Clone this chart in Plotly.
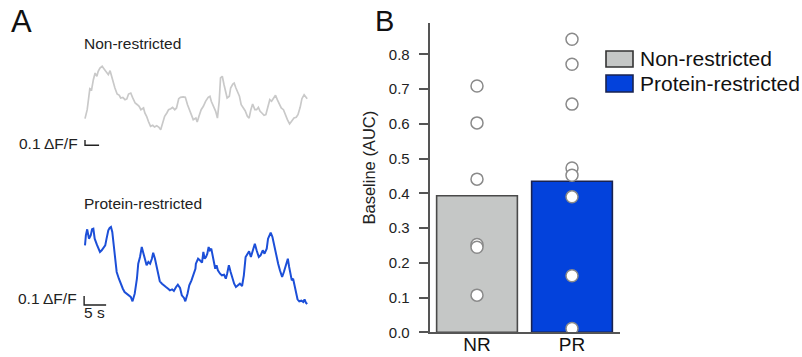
import plotly.graph_objects as go

# ---------------- data ----------------
# Panel A: example traces (time in s, dF/F)
nr_time = [0.0, 0.5, 1.1, 1.5, 1.9, 2.3, 2.7, 3.0, 3.4, 3.9, 4.3, 4.8, 5.3, 5.7, 6.1, 6.4, 6.8, 7.3, 7.8, 8.1,
           8.6, 9.1, 9.5, 9.9, 10.4, 10.8, 11.4, 11.9, 12.3, 12.7, 13.3, 13.6, 14.0, 14.4, 14.9, 15.4, 15.8, 16.3,
           16.8, 17.2, 17.7, 18.1, 18.6, 19.0, 19.5, 19.9, 20.4, 20.8, 21.3, 21.7, 22.3, 22.8, 23.3, 23.7, 24.2,
           24.6, 25.2, 25.5, 25.9, 26.4, 26.9, 27.4, 28.0, 28.4, 28.7, 29.2, 29.7, 30.1, 30.5, 30.8, 31.2, 31.6,
           32.0, 32.3, 32.8, 33.1, 33.6, 33.9, 34.3, 34.6, 35.1, 35.5, 36.0, 36.4, 36.9, 37.3, 37.7, 38.1, 38.6,
           39.0, 39.4, 39.8, 40.2, 40.7, 41.1, 41.6, 42.0, 42.4, 42.8, 43.3, 43.7, 44.2, 44.6, 45.1, 45.5, 46.0,
           46.5, 47.0, 47.5, 48.0, 48.4, 48.9, 49.3, 49.8, 50.2, 50.5]
nr_dff = [0.137, 0.237, 0.470, 0.459, 0.570, 0.644, 0.608, 0.663, 0.700, 0.719, 0.692, 0.663, 0.626, 0.670,
          0.589, 0.533, 0.478, 0.411, 0.397, 0.367, 0.374, 0.348, 0.356, 0.411, 0.422, 0.374, 0.311, 0.292,
          0.274, 0.237, 0.256, 0.200, 0.163, 0.108, 0.052, 0.063, 0.044, 0.059, 0.041, 0.014, 0.108, 0.163,
          0.200, 0.237, 0.248, 0.263, 0.237, 0.256, 0.359, 0.374, 0.378, 0.374, 0.292, 0.237, 0.181, 0.126,
          0.144, 0.100, 0.163, 0.237, 0.274, 0.330, 0.374, 0.386, 0.330, 0.274, 0.219, 0.144, 0.330, 0.589,
          0.608, 0.514, 0.403, 0.367, 0.386, 0.478, 0.522, 0.533, 0.478, 0.441, 0.386, 0.292, 0.256, 0.226,
          0.163, 0.144, 0.237, 0.300, 0.237, 0.237, 0.263, 0.219, 0.200, 0.174, 0.181, 0.274, 0.348, 0.330,
          0.359, 0.397, 0.348, 0.300, 0.256, 0.237, 0.181, 0.126, 0.078, 0.108, 0.144, 0.152, 0.181, 0.263,
          0.359, 0.403, 0.374, 0.359]

pr_time = [0.0, 0.2, 0.5, 0.9, 1.3, 1.6, 1.9, 2.2, 2.7, 3.1, 3.4, 3.8, 4.2, 4.6, 4.9, 5.3, 5.6, 5.9, 6.2, 6.5,
           6.8, 7.2, 7.7, 8.1, 8.6, 9.0, 9.5, 9.9, 10.4, 10.8, 11.3, 11.8, 12.1, 12.5, 12.9, 13.3, 13.6, 14.0,
           14.4, 14.8, 15.2, 15.5, 15.9, 16.3, 16.7, 17.0, 17.5, 18.0, 18.4, 18.9, 19.3, 19.8, 20.2, 20.7, 21.1,
           21.6, 22.0, 22.5, 22.8, 23.3, 23.7, 24.2, 24.6, 25.1, 25.2, 25.7, 26.1, 26.6, 26.9, 27.2, 27.5, 27.8,
           28.1, 28.4, 28.7, 29.0, 29.3, 29.6, 29.9, 30.2, 30.7, 31.1, 31.6, 32.0, 32.3, 32.7, 33.1, 33.5, 33.9,
           34.3, 34.8, 35.2, 35.7, 36.1, 36.5, 36.9, 37.3, 37.7, 38.1, 38.6, 39.0, 39.5, 39.9, 40.4, 40.8, 41.3,
           41.6, 41.9, 42.2, 42.6, 43.0, 43.4, 43.9, 44.3, 44.8, 45.2, 45.7, 46.1, 46.4, 46.7, 47.0, 47.3, 47.7,
           48.0, 48.3, 48.7, 49.2, 49.6, 49.9, 50.2, 50.5]
pr_dff = [0.663, 0.774, 0.841, 0.737, 0.774, 0.841, 0.848, 0.737, 0.670, 0.626, 0.589, 0.608, 0.633, 0.663,
          0.737, 0.830, 0.856, 0.867, 0.811, 0.663, 0.497, 0.367, 0.292, 0.237, 0.181, 0.144, 0.126, 0.108,
          0.089, 0.041, 0.126, 0.292, 0.459, 0.533, 0.644, 0.570, 0.497, 0.441, 0.478, 0.459, 0.514, 0.581,
          0.514, 0.422, 0.330, 0.263, 0.237, 0.211, 0.200, 0.181, 0.163, 0.174, 0.156, 0.200, 0.226, 0.189,
          0.108, 0.078, 0.041, 0.126, 0.219, 0.274, 0.330, 0.403, 0.459, 0.514, 0.497, 0.470, 0.589, 0.514,
          0.533, 0.570, 0.644, 0.608, 0.626, 0.552, 0.459, 0.403, 0.441, 0.386, 0.348, 0.330, 0.337, 0.292,
          0.348, 0.441, 0.367, 0.292, 0.237, 0.200, 0.226, 0.237, 0.211, 0.330, 0.533, 0.570, 0.597, 0.533,
          0.589, 0.681, 0.608, 0.533, 0.552, 0.608, 0.570, 0.626, 0.737, 0.767, 0.803, 0.756, 0.663, 0.552,
          0.459, 0.386, 0.311, 0.367, 0.459, 0.514, 0.422, 0.330, 0.274, 0.292, 0.200, 0.126, 0.063, 0.041,
          0.048, 0.033, 0.063, 0.026, 0.011]

# Panel B: baseline AUC
groups = ["NR", "PR"]
group_names = ["Non-restricted", "Protein-restricted"]
bar_means = [0.393, 0.435]
nr_points = [0.709, 0.603, 0.441, 0.253, 0.245, 0.107]
pr_points = [0.844, 0.772, 0.657, 0.473, 0.452, 0.390, 0.163, 0.011]
y_ticks = [0.0, 0.1, 0.2, 0.3, 0.4, 0.5, 0.6, 0.7, 0.8]

# ---------------- layout helpers (pixel -> paper) ----------------
W, H = 802, 357
FIG_H = 365
def PX(x):
    return x / W
def PY(y):
    return 1 - y / H

FONT = "Liberation Sans, Arial, Helvetica, sans-serif"
GRAY_LINE = "#c9c9c9"
BLUE_LINE = "#1c4fd8"
NR_FILL = "#c5c7c6"
PR_FILL = "#0342dc"
AXIS_COL = "#555555"

fig = go.Figure()

fig.add_trace(go.Scatter(x=nr_time, y=nr_dff, mode="lines",
                         line=dict(color=GRAY_LINE, width=1.7), xaxis="x", yaxis="y",
                         showlegend=False, hoverinfo="skip"))
fig.add_trace(go.Scatter(x=pr_time, y=pr_dff, mode="lines",
                         line=dict(color=BLUE_LINE, width=2.0), xaxis="x2", yaxis="y2",
                         showlegend=False, hoverinfo="skip"))

fig.add_trace(go.Bar(x=groups, y=bar_means, width=0.85,
                     marker=dict(color=[NR_FILL, PR_FILL],
                                 line=dict(color=["#4a4a4a", "#1a2350"], width=1.6)),
                     xaxis="x3", yaxis="y3", showlegend=False, hoverinfo="skip"))
fig.add_trace(go.Scatter(x=[groups[0]] * len(nr_points), y=nr_points, mode="markers",
                         marker=dict(size=12, color="white", line=dict(color="#8a8a8a", width=1.5)),
                         xaxis="x3", yaxis="y3", showlegend=False, hoverinfo="skip"))
fig.add_trace(go.Scatter(x=[groups[1]] * len(pr_points), y=pr_points, mode="markers",
                         marker=dict(size=12, color="white", line=dict(color="#8a8a8a", width=1.5)),
                         xaxis="x3", yaxis="y3", showlegend=False, hoverinfo="skip"))

hidden = dict(visible=False, showgrid=False, zeroline=False, fixedrange=True)
traceX = [PX(82.8), PX(309.4)]

fig.update_layout(
    width=W, height=FIG_H, autosize=False,
    margin=dict(l=0, r=0, t=0, b=0, pad=0),
    paper_bgcolor="white", plot_bgcolor="white",
    font=dict(family=FONT, color="#222222"),
    xaxis=dict(domain=traceX, range=[-0.5, 51], anchor="y", **hidden),
    yaxis=dict(domain=[PY(149), PY(59)], range=[-0.2, 0.8], anchor="x", **hidden),
    xaxis2=dict(domain=traceX, range=[-0.5, 51], anchor="y2", **hidden),
    yaxis2=dict(domain=[PY(314), PY(224)], range=[-0.1, 0.9], anchor="x2", **hidden),
    xaxis3=dict(domain=[PX(429.5), PX(619.5)], range=[-0.5, 1.5], anchor="y3",
                type="category", showline=True, linecolor=AXIS_COL, linewidth=1.6,
                ticks="", showgrid=False, zeroline=False, ticklabelstandoff=-6,
                tickfont=dict(size=19, color="#111111")),
    yaxis3=dict(domain=[PY(332.3), PY(23.2)], range=[0, 0.89], anchor="x3",
                showline=True, linecolor=AXIS_COL, linewidth=1.6,
                ticks="outside", ticklen=9, tickwidth=1.5, tickcolor=AXIS_COL,
                tickvals=y_ticks, tickformat=".1f", ticklabelstandoff=6,
                showgrid=False, zeroline=False,
                tickfont=dict(size=15, color="#222222")),
)

# scale bars (in trace units)
fig.add_shape(type="path", path="M 0,-0.1 L 0,-0.159 L 3.2,-0.159", xref="x", yref="y",
              line=dict(color="#222222", width=1.4))
fig.add_shape(type="path", path="M -0.2,0.1 L -0.2,0 L 4.8,0", xref="x2", yref="y2",
              line=dict(color="#222222", width=1.4))

# legend (panel B)
fig.add_shape(type="rect", xref="paper", yref="paper", x0=PX(606), x1=PX(633), y0=PY(67), y1=PY(51),
              fillcolor=NR_FILL, line=dict(color="#333333", width=1.6))
fig.add_shape(type="rect", xref="paper", yref="paper", x0=PX(606), x1=PX(633), y0=PY(92), y1=PY(75),
              fillcolor=PR_FILL, line=dict(color="#1a2350", width=1.6))

def ann(text, x, y, size, xanchor="left", angle=0, color="#222222"):
    fig.add_annotation(text=text, x=PX(x), y=PY(y), xref="paper", yref="paper",
                       xanchor=xanchor, yanchor="middle", showarrow=False, textangle=angle,
                       font=dict(size=size, family=FONT, color=color))

ann(group_names[0], 638, 59, 21, color="#111111")
ann(group_names[1], 638, 83, 21, color="#111111")
ann("A", 21.5, 21, 31, xanchor="center", color="#111111")
ann("B", 384, 21, 29, xanchor="center", color="#111111")
ann(group_names[0], 82, 43, 15.5)
ann(group_names[1], 82, 203, 15.5)
ann("0.1 \u0394F/F", 80, 143, 15.5, xanchor="right")
ann("0.1 \u0394F/F", 79, 298, 15.5, xanchor="right")
ann("5 s", 94, 312, 15.5, xanchor="center")
ann("Baseline (AUC)", 368, 167.5, 16.5, xanchor="center", angle=-90)

fig.write_html("out.html", config={"displayModeBar": False, "responsive": False},
               post_script="document.body.style.margin='0';document.body.style.overflow='hidden';")
